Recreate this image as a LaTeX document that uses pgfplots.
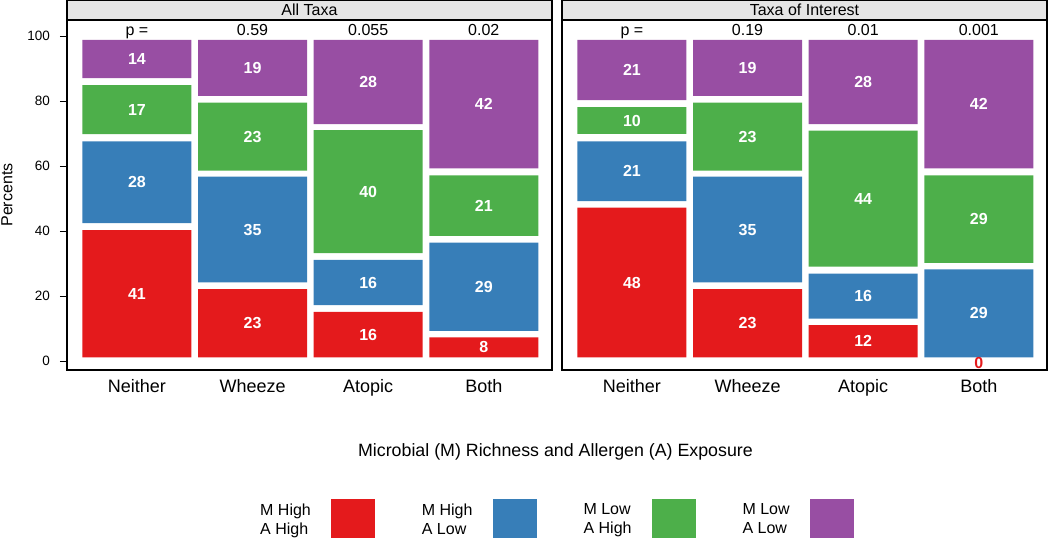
\documentclass[border=0pt]{standalone}
\usepackage{fontspec}
\setmainfont{Liberation Sans}
\usepackage{pgfplots}
\usepackage{pgfplotstable}
\pgfplotsset{compat=1.18}
\definecolor{cred}{HTML}{E41A1C}
\definecolor{cblue}{HTML}{377EB8}
\definecolor{cgreen}{HTML}{4DAF4A}
\definecolor{cpurple}{HTML}{984EA3}
\definecolor{stripgray}{HTML}{E5E5E5}

% stacked heights (base, red, gap, blue, gap, green, gap, purple) and the printed percentages
\pgfplotstableread[col sep=comma]{
x,base,red,ga,blue,gb,green,gc,purple,lred,lblue,lgreen,lpurple
1,1.1,39.2,2.1,25.2,2.2,15.1,2.1,11.8,41,28,17,14
2,1.1,21.0,2.1,32.5,1.9,20.9,2.1,17.2,23,35,23,19
3,1.1,14.0,2.1,13.9,2.1,37.8,1.9,25.9,16,16,40,28
4,1.1,6.2,2.0,27.1,2.1,18.6,2.2,39.5,8,29,21,42
}\leftbars
\pgfplotstableread[col sep=comma]{
x,base,red,ga,blue,gb,green,gc,purple,lred,lblue,lgreen,lpurple
1,1.1,46.1,2.0,18.4,2.3,8.2,2.2,18.5,48,21,10,21
2,1.1,21.0,2.1,32.5,1.9,20.9,2.1,17.2,23,35,23,19
3,1.1,9.9,2.0,13.9,2.1,41.9,2.0,25.9,12,16,44,28
4,1.1,0.0,0.0,27.1,2.0,26.9,2.2,39.5,,29,29,42
}\rightbars
\pgfplotstableread{
x y lab
4 -1.3 0
}\zerolabel

\pgfplotsset{
  panel/.style={
    scale only axis, width=485pt, height=350pt,
    xmin=0.395, xmax=4.59, ymin=-2.77, ymax=104.92,
    enlargelimits=false, clip=false,
    ybar stacked, bar width=0.943,
    axis line style={black, line width=1.1pt},
    xtick={1,2,3,4}, xticklabels={Neither,Wheeze,Atopic,Both},
    xtick style={draw=none},
    xticklabel style={font=\fontsize{18}{21}\selectfont, anchor=base, yshift=-15.7pt},
    tick align=outside, major tick length=7pt, ytick pos=left,
    ytick style={black, line width=0.9pt},
    yticklabel style={font=\fontsize{13.5}{16}\selectfont, xshift=-6.5pt},
    /pgf/number format/assume math mode=true,
    every axis title/.style={at={(0.5,1)}, anchor=south, draw=black, line width=1.1pt,
      fill=stripgray, minimum width=485pt, minimum height=19pt, inner sep=0pt,
      font=\fontsize{16}{19}\selectfont},
    extra x ticks={1,2,3,4},
    extra x tick style={xticklabel pos=upper, tick style={draw=none},
      every x tick label/.style={font=\fontsize{16}{19}\selectfont, anchor=base, yshift=-22.7pt}},
  },
  gap/.style={draw=none, fill=none, forget plot},
  seg/.style={draw=none, nodes near coords, point meta=explicit symbolic,
    every node near coord/.append style={font=\bfseries\fontsize{16}{19}\selectfont, text=white, anchor=center, inner sep=0pt}},
  legsq/.style={legend image code/.code={\fill[##1] (0pt,-23pt) rectangle (44pt,21pt); \path[draw=none,fill=none] (44pt,0pt) -- (71pt,0pt);}},
}

\begin{document}
\begin{tikzpicture}
\begin{axis}[panel, at={(67pt,-370pt)}, anchor=south west,
  title={All Taxa},
  extra x tick labels={p =,0.59,0.055,0.02},
  ytick={0,20,40,60,80,100},
  ylabel={Percents},
  every axis y label/.style={at={(axis description cs:-0.1237,0.5)}, rotate=90, anchor=center, font=\fontsize{16}{19}\selectfont},
  xlabel={Microbial (M) Richness and Allergen (A) Exposure},
  every axis x label/.style={at={(axis description cs:1.0072,-0.2457)}, anchor=base, font=\fontsize{17.8}{20}\selectfont},
  legend columns=4, legend plot pos=right,
  legend style={draw=none, fill=none, at={(axis description cs:0.3938,-0.3672)}, anchor=north west,
    inner sep=0pt, /tikz/column sep=18pt, cells={align=left}, font=\fontsize{16}{19}\selectfont},
  legend cell align=left,
]
\addplot[gap] table[x=x,y=base] {\leftbars};
\addplot[fill=cred, seg, legsq] table[x=x,y=red,meta=lred] {\leftbars};
\addlegendentry{M High\\A High}
\addplot[gap] table[x=x,y=ga] {\leftbars};
\addplot[fill=cblue, seg, legsq] table[x=x,y=blue,meta=lblue] {\leftbars};
\addlegendentry{M High\\A Low}
\addplot[gap] table[x=x,y=gb] {\leftbars};
\addplot[fill=cgreen, seg, legsq] table[x=x,y=green,meta=lgreen] {\leftbars};
\addlegendentry{M Low\\A High}
\addplot[gap] table[x=x,y=gc] {\leftbars};
\addplot[fill=cpurple, seg, legsq] table[x=x,y=purple,meta=lpurple] {\leftbars};
\addlegendentry{M Low\\A Low}
\end{axis}

\begin{axis}[panel, at={(562pt,-370pt)}, anchor=south west,
  title={Taxa of Interest},
  extra x tick labels={p =,0.19,0.01,0.001},
  ytick=\empty,
]
\addplot[gap] table[x=x,y=base] {\rightbars};
\addplot[fill=cred, seg] table[x=x,y=red,meta=lred] {\rightbars};
\addplot[gap] table[x=x,y=ga] {\rightbars};
\addplot[fill=cblue, seg] table[x=x,y=blue,meta=lblue] {\rightbars};
\addplot[gap] table[x=x,y=gb] {\rightbars};
\addplot[fill=cgreen, seg] table[x=x,y=green,meta=lgreen] {\rightbars};
\addplot[gap] table[x=x,y=gc] {\rightbars};
\addplot[fill=cpurple, seg] table[x=x,y=purple,meta=lpurple] {\rightbars};
\addplot[stack plots=false, draw=none, fill=none, forget plot, nodes near coords, point meta=explicit symbolic,
  every node near coord/.append style={font=\bfseries\fontsize{16}{19}\selectfont, text=cred, anchor=center, inner sep=0pt}]
  table[x=x,y=y,meta=lab] {\zerolabel};
\end{axis}
\pgfresetboundingbox
\useasboundingbox (0pt,0pt) rectangle (1050pt,-538pt);
\end{tikzpicture}
\end{document}
